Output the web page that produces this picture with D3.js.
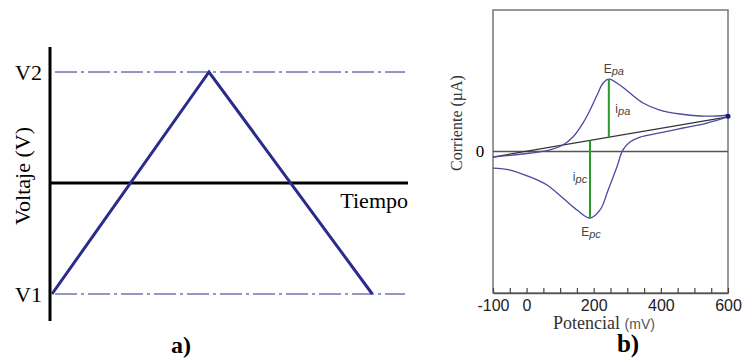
<!DOCTYPE html>
<html>
<head>
<meta charset="utf-8">
<script src="https://cdn.jsdelivr.net/npm/d3@7"></script>
<style>
  body { margin: 0; background: #fff; }
  svg { display: block; }
</style>
</head>
<body>
<div id="chart"></div>
<script>
const width = 744;
const height = 360;

// ---- panel a) triangular sweep: time vs voltage
const sweepTime = [0, 1, 2.04];
const sweepVolt = [-1, 1, -1];
const levelLabels = ["V1", "V2"];
const levelValues = [-1, 1];

// ---- panel b) cyclic voltammogram (mV, µA)
const anodicCurve = [
  [-100, -0.39], [70, 0.11], [108, 0.46], [138, 1.02], [168, 2.01], [189, 2.93],
  [210, 3.99], [228, 4.84], [245, 5.12], [278, 4.7], [308, 4.13], [347, 3.43],
  [397, 2.93], [457, 2.65], [517, 2.51], [568, 2.51], [600, 2.58]
];
const cathodicCurve = [
  [600, 2.44], [537, 2.01], [466, 1.66], [397, 1.31], [338, 1.02], [308, 0.67],
  [287, 0.11], [269, -1.1], [243, -2.72], [219, -4.13], [189, -4.7], [150, -4.13],
  [108, -3.29], [61, -2.37], [10, -1.8], [-49, -1.31], [-100, -1.17]
];
const baseline = [[-100, -0.39], [600, 2.44]];
const peakAnodic = { e: 245, i: 5.12 };
const peakCathodic = { e: 189, i: -4.7 };
const majorTicks = [-100, 0, 200, 400, 600];
const minorTicks = d3.range(-100, 601, 50);

const svg = d3.select("#chart").append("svg")
  .attr("width", width)
  .attr("height", height)
  .attr("viewBox", `0 0 ${width} ${height}`);

const serif = "'Liberation Serif', 'DejaVu Serif', serif";
const sans = "'Liberation Sans', Arial, sans-serif";
const navy = "#2b2b8c";

// ================= panel a =================
const xA = d3.scaleLinear().domain([0, 1]).range([52, 209]);
const yA = d3.scaleLinear().domain([-1, 1]).range([294, 72]);

const gA = svg.append("g");

// dash-dot reference levels
gA.selectAll("line.level")
  .data(levelValues)
  .join("line")
  .attr("class", "level")
  .attr("x1", 55).attr("x2", 405)
  .attr("y1", d => yA(d)).attr("y2", d => yA(d))
  .attr("stroke", navy)
  .attr("stroke-width", 1)
  .attr("stroke-dasharray", "22,4,3,4");

// axes
gA.append("line")
  .attr("x1", 50).attr("x2", 50).attr("y1", 47).attr("y2", 321)
  .attr("stroke", "#000").attr("stroke-width", 3);
gA.append("line")
  .attr("x1", 49).attr("x2", 408).attr("y1", yA(0)).attr("y2", yA(0))
  .attr("stroke", "#000").attr("stroke-width", 3);

// triangle waveform
const lineA = d3.line().x((d, i) => xA(sweepTime[i])).y(d => yA(d));
gA.append("path")
  .attr("d", lineA(sweepVolt))
  .attr("fill", "none")
  .attr("stroke", navy)
  .attr("stroke-width", 3)
  .attr("stroke-linejoin", "miter");

gA.selectAll("text.level")
  .data(levelLabels)
  .join("text")
  .attr("class", "level")
  .attr("x", 42)
  .attr("y", (d, i) => yA(levelValues[i]))
  .attr("dy", "0.35em")
  .attr("text-anchor", "end")
  .style("font", `22px ${serif}`)
  .text(d => d);

gA.append("text")
  .attr("transform", `translate(30, ${yA(0) - 7}) rotate(-90)`)
  .attr("text-anchor", "middle")
  .style("font", `22px ${serif}`)
  .text("Voltaje (V)");

gA.append("text")
  .attr("x", 408).attr("y", 208)
  .attr("text-anchor", "end")
  .style("font", `22px ${serif}`)
  .text("Tiempo");

gA.append("text")
  .attr("x", 181).attr("y", 353)
  .attr("text-anchor", "middle")
  .style("font", `bold 24px ${serif}`)
  .text("a)");

// ================= panel b =================
const xB = d3.scaleLinear().domain([-100, 600]).range([493, 728]);
const yB = d3.scaleLinear().domain([-10, 10]).range([293, 10]);

const gB = svg.append("g");

gB.append("rect")
  .attr("x", xB(-100)).attr("y", yB(10))
  .attr("width", xB(600) - xB(-100))
  .attr("height", yB(-10) - yB(10))
  .attr("fill", "none")
  .attr("stroke", "#777")
  .attr("stroke-width", 1.5);

// zero line
gB.append("line")
  .attr("x1", xB(-100)).attr("x2", xB(600))
  .attr("y1", yB(0)).attr("y2", yB(0))
  .attr("stroke", "#555").attr("stroke-width", 1.5);

// bottom axis with inward ticks
const xAxis = d3.axisBottom(xB)
  .tickValues(minorTicks)
  .tickSizeInner(-5)
  .tickSizeOuter(0)
  .tickPadding(8)
  .tickFormat(d => majorTicks.includes(d) ? d : "");
const axisG = gB.append("g")
  .attr("transform", `translate(0, ${yB(-10)})`)
  .call(xAxis);
axisG.select(".domain").attr("stroke", "#555").attr("stroke-width", 1.5);
axisG.selectAll(".tick line").attr("stroke", "#444").attr("stroke-width", 1.2);
axisG.selectAll(".tick text")
  .attr("fill", "#222")
  .style("font", `16px ${sans}`)
  .attr("dy", "0.6em");

// baseline extrapolation
const lineB = d3.line().x(d => xB(d[0])).y(d => yB(d[1]));
gB.append("path")
  .attr("d", lineB(baseline))
  .attr("fill", "none")
  .attr("stroke", "#333")
  .attr("stroke-width", 1.3);

// voltammogram
const curve = d3.line().x(d => xB(d[0])).y(d => yB(d[1])).curve(d3.curveCatmullRom);
[anodicCurve, cathodicCurve].forEach(c => {
  gB.append("path")
    .attr("d", curve(c))
    .attr("fill", "none")
    .attr("stroke", "#4a4aa0")
    .attr("stroke-width", 1.3);
});
gB.append("circle")
  .attr("cx", xB(600)).attr("cy", yB(2.5))
  .attr("r", 2.5)
  .attr("fill", "#1a1a80");

// peak current bars
const baseAt = e => d3.scaleLinear().domain(baseline.map(d => d[0])).range(baseline.map(d => d[1]))(e);
[peakAnodic, peakCathodic].forEach(p => {
  gB.append("line")
    .attr("x1", xB(p.e)).attr("x2", xB(p.e))
    .attr("y1", yB(p.i)).attr("y2", yB(baseAt(p.e)))
    .attr("stroke", "#2a9a2a")
    .attr("stroke-width", 2);
});

function subLabel(x, y, main, sub) {
  const t = gB.append("text")
    .attr("x", x).attr("y", y)
    .attr("text-anchor", "middle")
    .attr("fill", "#444")
    .style("font", `12px ${sans}`);
  t.append("tspan").text(main);
  t.append("tspan").attr("dy", "0.2em").style("font-size", "11px").style("font-style", "italic").text(sub);
}
subLabel(xB(peakAnodic.e) + 5, 73, "E", "pa");
subLabel(xB(peakAnodic.e) + 14, 113, "i", "pa");
subLabel(xB(peakCathodic.e) - 10, 181, "i", "pc");
subLabel(xB(peakCathodic.e) + 1, 236, "E", "pc");

gB.append("text")
  .attr("x", 480).attr("y", yB(0))
  .attr("dy", "0.35em")
  .attr("text-anchor", "middle")
  .style("font", `17px ${serif}`)
  .text("0");

gB.append("text")
  .attr("transform", `translate(462, 123) rotate(-90)`)
  .attr("text-anchor", "middle")
  .style("font", `16px ${serif}`)
  .attr("fill", "#333")
  .text("Corriente (µA)");

const pot = gB.append("text")
  .attr("x", 604).attr("y", 329)
  .attr("text-anchor", "middle")
  .attr("fill", "#333")
  .style("font", `18px ${serif}`);
pot.append("tspan").text("Potencial ");
pot.append("tspan").style("font", `14px ${sans}`).attr("fill", "#555").text("(mV)");

gB.append("text")
  .attr("x", 628).attr("y", 352)
  .attr("text-anchor", "middle")
  .style("font", `bold 25px ${serif}`)
  .text("b)");
</script>
</body>
</html>
